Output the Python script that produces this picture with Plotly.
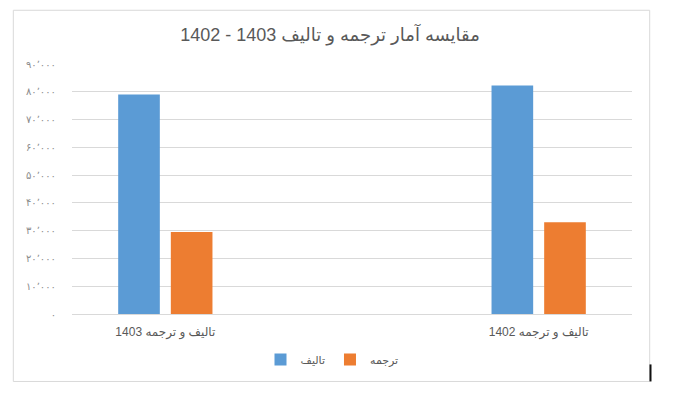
import plotly.graph_objects as go

RLE, PDF = "\u202b", "\u202c"

categories = ["تالیف و ترجمه 1403", "تالیف و ترجمه 1402"]
series_names = ["تالیف", "ترجمه"]
talif_values = [79000, 82300]
tarjome_values = [29500, 33000]
colors = ["#5b9bd5", "#ed7d31"]

y_tickvals = [0, 10000, 20000, 30000, 40000, 50000, 60000, 70000, 80000, 90000]
y_ticktext = ["۰", "۱۰٬۰۰۰", "۲۰٬۰۰۰", "۳۰٬۰۰۰", "۴۰٬۰۰۰", "۵۰٬۰۰۰",
              "۶۰٬۰۰۰", "۷۰٬۰۰۰", "۸۰٬۰۰۰", "۹۰٬۰۰۰"]
title_text = "مقایسه آمار ترجمه و تالیف 1403 - 1402"

cat_labels = [RLE + c + PDF for c in categories]

FONT = "Liberation Sans, Arial, DejaVu Sans, sans-serif"

# page body has an 8px margin, so the figure is laid out 8px smaller
OFF = 8
W, H = 681 - OFF, 399 - OFF

fig = go.Figure()
for name, vals, col in zip(series_names, [talif_values, tarjome_values], colors):
    fig.add_trace(go.Bar(x=cat_labels, y=vals, name=name, marker_color=col,
                         marker_line_width=0))

fig.update_layout(
    width=W, height=H,
    margin=dict(l=72 - OFF, r=49, t=64 - OFF, b=85, pad=0),
    paper_bgcolor="white", plot_bgcolor="white",
    barmode="group", bargap=0.718, bargroupgap=0.209,
    font=dict(family=FONT, color="#595959"),
    title=dict(text=RLE + title_text + PDF, x=(330 - OFF) / W, xref="container",
               xanchor="center", y=1 - (35 - OFF) / H, yanchor="middle",
               font=dict(size=18, color="#595959", family=FONT)),
    xaxis=dict(range=[-0.25, 1.25], showgrid=False, showline=True,
               linecolor="#d9d9d9", linewidth=1,
               tickfont=dict(size=12, color="#595959"),
               ticks="outside", ticklen=7, tickcolor="rgba(0,0,0,0)"),
    yaxis=dict(range=[0, 90000], tickvals=y_tickvals, ticktext=y_ticktext,
               showgrid=True, gridcolor="#d9d9d9", gridwidth=1,
               zeroline=False, showline=False,
               ticks="outside", ticklen=13, tickcolor="rgba(0,0,0,0)",
               tickfont=dict(size=10, color="#8c8c8c")),
    legend=dict(orientation="h", x=(332 - 72) / 560, xanchor="center",
                y=(313.7 - 359) / 249.4, yanchor="middle", itemwidth=30,
                font=dict(size=11, color="#595959"), traceorder="normal"),
    showlegend=True,
)

# outer chart border
fig.add_shape(type="rect", xref="paper", yref="paper",
              x0=(13.3 - 72) / 560, x1=(649.7 - 72) / 560,
              y0=(313.7 - 381) / 249.4, y1=(313.7 - 10.7) / 249.4,
              line=dict(color="#d9d9d9", width=1), fillcolor="rgba(0,0,0,0)",
              layer="below")
fig.add_shape(type="line", xref="paper", yref="paper",
              x0=(650.5 - 72) / 560, x1=(650.5 - 72) / 560,
              y0=(313.7 - 381) / 249.4, y1=(313.7 - 364) / 249.4,
              line=dict(color="#111111", width=2))

fig.write_html("out.html", config={"displayModeBar": False})
